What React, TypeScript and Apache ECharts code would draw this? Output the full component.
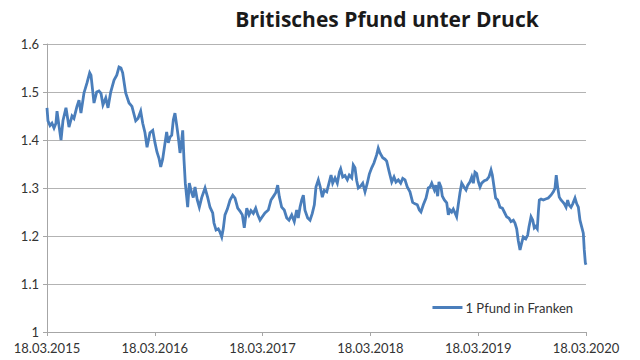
import React, { useEffect, useRef } from "react";
import * as echarts from "echarts";

const title = "Britisches Pfund unter Druck";
const seriesName = "1 Pfund in Franken";
const startYear = 2015;
const tickDayMonth = "18.03.";

// years elapsed since 18.03.2015
const yearOffsets = [
  0, 0.009, 0.028, 0.046, 0.065, 0.083, 0.093, 0.111, 0.13, 0.148, 0.176, 0.204, 0.232, 0.25, 0.278, 0.297,
  0.315, 0.343, 0.371, 0.396, 0.408, 0.436, 0.461, 0.482, 0.501, 0.519, 0.545, 0.566, 0.591, 0.622, 0.647,
  0.668, 0.686, 0.702, 0.73, 0.761, 0.788, 0.823, 0.844, 0.869, 0.888, 0.909, 0.928, 0.955, 0.981, 1.002,
  1.02, 1.039, 1.055, 1.073, 1.095, 1.11, 1.125, 1.141, 1.157, 1.172, 1.187, 1.203, 1.218, 1.234, 1.25,
  1.259, 1.271, 1.283, 1.296, 1.305, 1.32, 1.342, 1.357, 1.373, 1.394, 1.413, 1.435, 1.466, 1.491, 1.512,
  1.537, 1.549, 1.568, 1.589, 1.605, 1.621, 1.635, 1.651, 1.673, 1.698, 1.723, 1.744, 1.769, 1.79, 1.812,
  1.83, 1.853, 1.874, 1.892, 1.914, 1.936, 1.955, 1.976, 1.997, 2.022, 2.053, 2.078, 2.099, 2.122, 2.14,
  2.155, 2.177, 2.201, 2.224, 2.245, 2.27, 2.294, 2.316, 2.331, 2.347, 2.363, 2.378, 2.393, 2.418, 2.44,
  2.461, 2.48, 2.495, 2.517, 2.535, 2.554, 2.572, 2.595, 2.616, 2.635, 2.65, 2.672, 2.693, 2.712, 2.724,
  2.743, 2.764, 2.786, 2.804, 2.827, 2.841, 2.857, 2.873, 2.888, 2.91, 2.929, 2.95, 2.971, 2.99, 3.012,
  3.033, 3.058, 3.073, 3.089, 3.114, 3.135, 3.151, 3.175, 3.198, 3.219, 3.237, 3.259, 3.281, 3.3, 3.321,
  3.342, 3.367, 3.392, 3.414, 3.435, 3.454, 3.469, 3.491, 3.516, 3.537, 3.553, 3.569, 3.593, 3.606, 3.624,
  3.636, 3.655, 3.667, 3.686, 3.708, 3.723, 3.738, 3.754, 3.769, 3.785, 3.8, 3.815, 3.831, 3.847, 3.868,
  3.887, 3.903, 3.924, 3.94, 3.955, 3.97, 3.986, 4.001, 4.017, 4.032, 4.057, 4.079, 4.1, 4.119, 4.131,
  4.147, 4.162, 4.181, 4.202, 4.224, 4.242, 4.264, 4.286, 4.304, 4.326, 4.341, 4.357, 4.372, 4.388, 4.403,
  4.418, 4.441, 4.459, 4.471, 4.49, 4.506, 4.52, 4.533, 4.548, 4.558, 4.567, 4.583, 4.604, 4.626, 4.65,
  4.675, 4.697, 4.712, 4.724, 4.737, 4.752, 4.768, 4.784, 4.799, 4.815, 4.83, 4.842, 4.861, 4.877, 4.898,
  4.914, 4.929, 4.944, 4.96, 4.975, 4.984, 4.994, 5.0,
];

// CHF per GBP
const francsPerPound = [
  1.467, 1.44, 1.43, 1.435, 1.425, 1.435, 1.46, 1.43, 1.4, 1.44, 1.467, 1.427, 1.45, 1.445, 1.47, 1.483,
  1.456, 1.498, 1.519, 1.54, 1.535, 1.477, 1.5, 1.502, 1.497, 1.473, 1.4875, 1.467, 1.5, 1.525, 1.535,
  1.552, 1.55, 1.54, 1.498, 1.477, 1.47, 1.44, 1.445, 1.46, 1.435, 1.415, 1.385, 1.415, 1.42, 1.394,
  1.375, 1.362, 1.344, 1.36, 1.394, 1.417, 1.394, 1.406, 1.41, 1.442, 1.456, 1.431, 1.406, 1.373, 1.4,
  1.42, 1.358, 1.31, 1.281, 1.26, 1.31, 1.29, 1.28, 1.302, 1.275, 1.26, 1.28, 1.3, 1.28, 1.26,
  1.248, 1.227, 1.2125, 1.215, 1.208, 1.198, 1.215, 1.244, 1.256, 1.275, 1.285, 1.279, 1.258, 1.252, 1.244,
  1.217, 1.258, 1.244, 1.253, 1.247, 1.258, 1.244, 1.233, 1.24, 1.248, 1.254, 1.275, 1.282, 1.29, 1.306,
  1.282, 1.26, 1.254, 1.2375, 1.233, 1.244, 1.23, 1.254, 1.2375, 1.26, 1.275, 1.285, 1.254, 1.2375, 1.233,
  1.247, 1.265, 1.302, 1.317, 1.302, 1.281, 1.295, 1.292, 1.31, 1.327, 1.31, 1.321, 1.31, 1.333, 1.34,
  1.323, 1.326, 1.317, 1.327, 1.321, 1.348, 1.342, 1.315, 1.3, 1.304, 1.31, 1.292, 1.31, 1.329, 1.342,
  1.352, 1.369, 1.383, 1.373, 1.363, 1.36, 1.356, 1.333, 1.3125, 1.323, 1.3125, 1.317, 1.31, 1.32, 1.317,
  1.302, 1.292, 1.27, 1.267, 1.265, 1.254, 1.25, 1.265, 1.279, 1.3, 1.302, 1.31, 1.296, 1.306, 1.283,
  1.3125, 1.302, 1.283, 1.275, 1.269, 1.244, 1.254, 1.25, 1.256, 1.248, 1.24, 1.265, 1.29, 1.31, 1.302,
  1.296, 1.306, 1.313, 1.323, 1.31, 1.333, 1.33, 1.313, 1.302, 1.31, 1.315, 1.317, 1.323, 1.3375, 1.327,
  1.302, 1.279, 1.275, 1.26, 1.258, 1.25, 1.24, 1.237, 1.23, 1.233, 1.227, 1.215, 1.19, 1.171, 1.185,
  1.198, 1.194, 1.202, 1.219, 1.24, 1.233, 1.217, 1.22, 1.215, 1.25, 1.275, 1.277, 1.275, 1.277, 1.279,
  1.285, 1.292, 1.299, 1.327, 1.302, 1.281, 1.275, 1.271, 1.267, 1.26, 1.275, 1.265, 1.26, 1.267, 1.279,
  1.267, 1.26, 1.233, 1.219, 1.206, 1.171, 1.144, 1.14,
];

const yMin = 1;
const yMax = 1.6;
const yStep = 0.1;
const xMin = 0;
const xMax = 5;

export default function App() {
  const ref = useRef<HTMLDivElement>(null);

  useEffect(() => {
    if (!ref.current) return;
    const chart = echarts.init(ref.current, null, { renderer: "svg" });
    const data = yearOffsets.map((x, i) => [x, francsPerPound[i]]);
    const labelFont = "Lato, 'Open Sans', sans-serif";
    chart.setOption({
      animation: false,
      backgroundColor: "#ffffff",
      title: {
        text: title,
        left: 382,
        top: 3,
        textAlign: "center",
        textStyle: {
          fontFamily: "'Open Sans', sans-serif",
          fontWeight: "bold",
          fontSize: 21,
          color: "#1a1a1a",
        },
      },
      legend: {
        data: [{ name: seriesName }],
        right: 62,
        top: 296,
        icon: "rect",
        itemWidth: 30,
        itemHeight: 3,
        itemGap: 4,
        textStyle: { fontFamily: labelFont, fontSize: 13, color: "#333333", padding: [0, 0, 0, -2] },
      },
      grid: { left: 47, right: 54, top: 44, bottom: 28, containLabel: false },
      xAxis: {
        type: "value",
        min: xMin,
        max: xMax,
        interval: 1,
        axisLine: { show: true, lineStyle: { color: "#a6a6a6", width: 1 } },
        axisTick: { show: true, length: 4, lineStyle: { color: "#a6a6a6" } },
        splitLine: { show: false },
        axisLabel: {
          margin: 9,
          fontFamily: labelFont,
          fontSize: 13,
          color: "#333333",
          formatter: (v: number) => tickDayMonth + (startYear + Math.round(v)),
        },
      },
      yAxis: {
        type: "value",
        min: yMin,
        max: yMax,
        interval: yStep,
        axisLine: { show: true, lineStyle: { color: "#a6a6a6", width: 1 } },
        axisTick: { show: true, length: 4, lineStyle: { color: "#a6a6a6" } },
        splitLine: { show: true, lineStyle: { color: "#b3b3b3", width: 1 } },
        axisLabel: {
          margin: 8,
          fontFamily: labelFont,
          fontSize: 13,
          color: "#333333",
          formatter: (v: number) => String(Number(v.toFixed(1))),
        },
      },
      series: [
        {
          name: seriesName,
          type: "line",
          data,
          symbol: "none",
          lineStyle: { color: "#4a7ebb", width: 2.8, join: "miter" },
          itemStyle: { color: "#4a7ebb" },
        },
      ],
    });
    return () => chart.dispose();
  }, []);

  return <div ref={ref} style={{ width: 640, height: 360, position: "absolute", left: 0, top: 0 }} />;
}
